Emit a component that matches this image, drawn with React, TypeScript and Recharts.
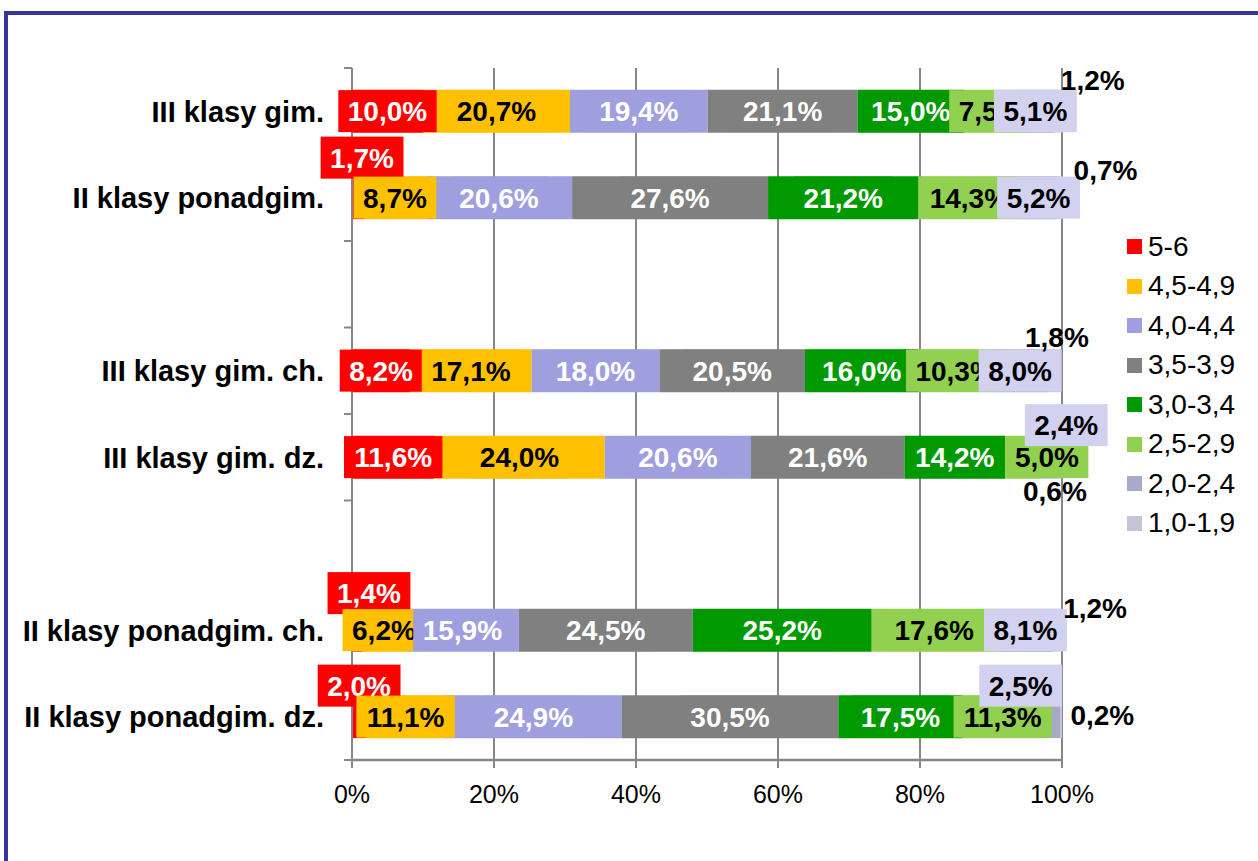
import React from 'react';
import { BarChart, Bar, XAxis, YAxis, CartesianGrid, Legend, LabelList } from 'recharts';

// categories (two empty slots keep the gaps between the groups)
const rows = [
  'III klasy gim.',
  'II klasy ponadgim.',
  '',
  'III klasy gim. ch.',
  'III klasy gim. dz.',
  ' ',
  'II klasy ponadgim. ch.',
  'II klasy ponadgim. dz.',
];

// share of pupils (%) per grade-average band
const band56 = [10.0, 1.7, null, 8.2, 11.6, null, 1.4, 2.0];
const band45 = [20.7, 8.7, null, 17.1, 24.0, null, 6.2, 11.1];
const band40 = [19.4, 20.6, null, 18.0, 20.6, null, 15.9, 24.9];
const band35 = [21.1, 27.6, null, 20.5, 21.6, null, 24.5, 30.5];
const band30 = [15.0, 21.2, null, 16.0, 14.2, null, 25.2, 17.5];
const band25 = [7.5, 14.3, null, 10.3, 5.0, null, 17.6, 11.3];
const band20 = [5.1, 5.2, null, 8.0, 2.4, null, 8.1, 2.5];
const band10 = [1.2, 0.7, null, 1.8, 0.6, null, 1.2, 0.2];

const seriesNames = ['5-6', '4,5-4,9', '4,0-4,4', '3,5-3,9', '3,0-3,4', '2,5-2,9', '2,0-2,4', '1,0-1,9'];
const seriesValues = [band56, band45, band40, band35, band30, band25, band20, band10];
const xTicks = [0, 20, 40, 60, 80, 100];

const data = rows.map((name, i) => {
  const row: Record<string, any> = { name };
  seriesValues.forEach((vals, k) => {
    row['s' + k] = vals[i];
  });
  return row;
});

// styling
const FONT = '"Liberation Sans", Arial, sans-serif';
const AXIS = '#878787';
const barColors = ['#FF0000', '#FFC000', '#9F9FDF', '#808080', '#009900', '#92D050', '#A8A8C8', '#C4C4D8'];
const legendColors = ['#FF0000', '#FFC000', '#9F9FDF', '#808080', '#009900', '#92D050', '#A9A9C9', '#C4C4D8'];
const boxFill = ['#FF0000', '#FFC000', '#9F9FDF', '#808080', '#009900', '#92D050', '#D2D2F0', null];
const ink = ['#fff', '#000', '#fff', '#fff', '#fff', '#000', '#000', '#000'];

// hand-moved labels: series -> drawn bar (empty rows are skipped) -> [dx, dy] from segment centre
const nudges: Record<number, Record<number, [number, number]>> = {
  0: { 1: [4, -40], 4: [12, -37], 5: [0, -31] },
  5: { 3: [24, 0] },
  6: { 3: [17, -32], 5: [-31, -31] },
  7: { 0: [35, -31], 1: [46, -28], 2: [2, -34], 3: [-5, 34], 4: [37, -22], 5: [41, -2] },
};

const PLOT_H = 692;
const BAND = PLOT_H / rows.length;
const LABEL_SIZE = 28;

const fmt = (v: number) => v.toFixed(1).replace('.', ',') + '%';
const textWidth = (t: string, size: number) =>
  t.split('').reduce((w, c) => w + (c === ',' ? 0.278 : c === '%' ? 0.889 : 0.556), 0) * size;

const makeLabel = (k: number) => (props: any) => {
  const { value, index } = props;
  if (value == null) return null;
  const vb = props.viewBox && props.viewBox.width != null ? props.viewBox : props;
  const [dx, dy] = (nudges[k] && nudges[k][index]) || [0, 0];
  const cx = vb.x + vb.width / 2 + dx;
  const cy = vb.y + vb.height / 2 + dy;
  const text = fmt(value);
  const w = textWidth(text, LABEL_SIZE) + 19;
  return (
    <g>
      {boxFill[k] && <rect x={cx - w / 2} y={cy - 21} width={w} height={42} fill={boxFill[k] as string} />}
      <text
        x={cx}
        y={cy}
        dy="0.36em"
        textAnchor="middle"
        fontFamily={FONT}
        fontWeight="bold"
        fontSize={LABEL_SIZE}
        fill={ink[k]}
      >
        {text}
      </text>
    </g>
  );
};

const RowTick = (props: any) => {
  const { x, y, payload, index } = props;
  return (
    <g>
      <line x1={x + 20} x2={x + 28} y1={y - BAND / 2} y2={y - BAND / 2} stroke={AXIS} strokeWidth={2} />
      {index === rows.length - 1 && (
        <line x1={x + 20} x2={x + 28} y1={y + BAND / 2} y2={y + BAND / 2} stroke={AXIS} strokeWidth={2} />
      )}
      <text x={x} y={y} dy="0.36em" textAnchor="end" fontFamily={FONT} fontWeight="bold" fontSize={29} fill="#000">
        {payload.value}
      </text>
    </g>
  );
};

const LegendBox = () => (
  <div style={{ fontFamily: FONT, fontSize: 28, color: '#000' }}>
    {seriesNames.map((n, i) => (
      <div key={n} style={{ height: 39.5, display: 'flex', alignItems: 'center' }}>
        <span style={{ display: 'inline-block', width: 15, height: 15, background: legendColors[i], marginRight: 6 }} />
        <span style={{ lineHeight: 1 }}>{n}</span>
      </div>
    ))}
  </div>
);

export default function App() {
  return (
    <div style={{ position: 'fixed', left: 0, top: 0, width: 1258, height: 861, background: '#fff', overflow: 'hidden' }}>
      <div
        style={{
          position: 'absolute',
          left: 4,
          top: 11,
          width: 1400,
          height: 1000,
          border: '4px solid #343499',
          boxSizing: 'border-box',
        }}
      />
      <div style={{ position: 'absolute', left: 0, top: 0 }}>
        <BarChart
          width={1258}
          height={861}
          data={data}
          layout="vertical"
          barCategoryGap="25%"
          margin={{ top: 68, right: 196, bottom: 61, left: 12 }}
        >
          <CartesianGrid horizontal={false} stroke={AXIS} strokeWidth={2} />
          <XAxis
            type="number"
            domain={[0, 100]}
            ticks={xTicks}
            allowDataOverflow
            tickFormatter={(v) => v + '%'}
            height={40}
            tickSize={8}
            tickMargin={17}
            axisLine={{ stroke: AXIS, strokeWidth: 2.5 }}
            tickLine={{ stroke: AXIS, strokeWidth: 2 }}
            tick={{ fontSize: 25, fill: '#000', fontFamily: FONT }}
          />
          <YAxis
            type="category"
            dataKey="name"
            width={340}
            tickSize={8}
            tickMargin={20}
            tickLine={false}
            axisLine={{ stroke: AXIS, strokeWidth: 2 }}
            tick={<RowTick />}
            interval={0}
          />
          <Legend
            layout="vertical"
            align="center"
            verticalAlign="middle"
            content={LegendBox}
            wrapperStyle={{ left: 1127, top: 227, width: 131 }}
          />
          {seriesNames.map((n, k) => (
            <Bar key={n} dataKey={'s' + k} name={n} stackId="a" fill={barColors[k]} isAnimationActive={false}>
              <LabelList dataKey={'s' + k} content={makeLabel(k)} />
            </Bar>
          ))}
        </BarChart>
      </div>
    </div>
  );
}
